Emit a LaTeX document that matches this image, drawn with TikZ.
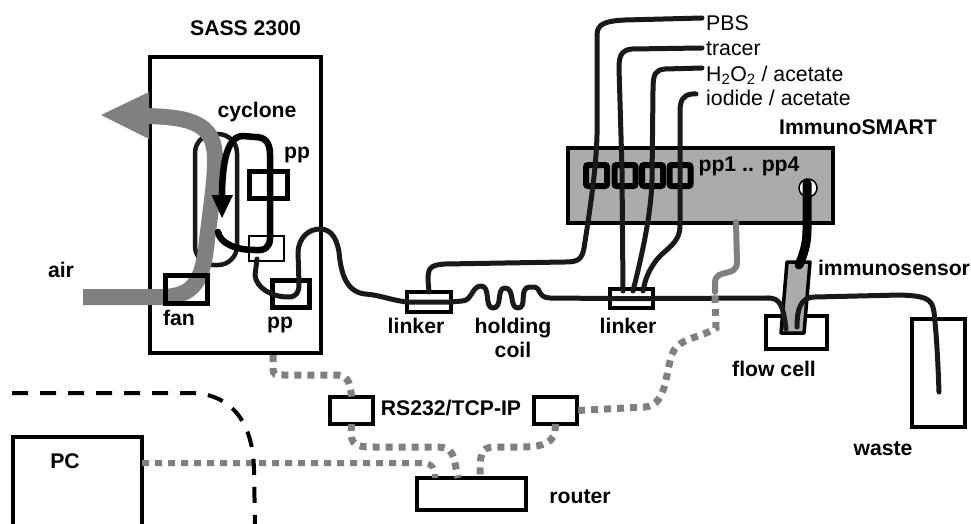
\documentclass[tikz,border=0pt]{standalone}
\usepackage{fontspec}
\setmainfont{Liberation Sans}
\definecolor{airgray}{gray}{0.5}
\definecolor{boxgray}{gray}{0.67}
\definecolor{tube}{gray}{0.1}
\tikzset{
  bx/.style={draw=black,line width=#1,inner sep=0pt,outer sep=0pt,rectangle},
  bx/.default=3pt,
  lb/.style={font=\fontsize{21.2}{24}\selectfont\bfseries,inner sep=0pt},
  lr/.style={font=\fontsize{21.3}{24}\selectfont,inner sep=0pt,anchor=west},
  tb/.style={draw=tube,line width=5pt,line cap=round,line join=round},
  dt/.style={draw=airgray,line width=7pt,dash pattern=on 7pt off 6pt}
}
\begin{document}
\begin{tikzpicture}[x=1pt,y=-1pt]
\useasboundingbox (0,0) rectangle (971,524);
% boxes
\node[bx=4pt,minimum width=171pt,minimum height=296pt] (sass) at (235.5,205) {};
\node[bx=4.5pt,rounded corners=19pt,minimum width=42pt,minimum height=131pt,draw=tube] (cyc) at (216,199.5) {};
\node[bx=2.5pt,minimum width=35pt,minimum height=25pt] (small) at (266.5,248.5) {};
\node[bx=4pt,fill=boxgray,minimum width=265pt,minimum height=75pt] (ims) at (700.5,185.5) {};
\node[bx=4pt,minimum width=53pt,minimum height=108pt] (wastebox) at (938.5,373) {};
\node[bx=4pt,minimum width=129pt,minimum height=103pt] (pc) at (77.5,488.5) {};
\node[bx=4.5pt,minimum width=43pt,minimum height=27pt] (rsl) at (351.5,410.5) {};
\node[bx=4.5pt,minimum width=43pt,minimum height=27pt] (rsr) at (555.5,410.5) {};
\node[bx=4pt,minimum width=109pt,minimum height=32pt] (router) at (471.5,494) {};
\node[bx=3.5pt,minimum width=44pt,minimum height=20pt] (lk1) at (429,302) {};
\node[bx=3.5pt,minimum width=43pt,minimum height=19pt] (lk2) at (631.5,298.5) {};
\node[bx=4pt,minimum width=61pt,minimum height=33pt] (cell) at (796.5,332.5) {};
\foreach \n/\x in {p1/596.5,p2/625,p3/652.5,p4/680}
  \node[bx=6pt,rounded corners=2pt,minimum width=21pt,minimum height=21pt] (\n) at (\x,175.5) {};
% free ends
\coordinate (airin) at (83,297);
\coordinate (airout) at (140,116);
\coordinate (airtip) at (101,115);
\coordinate (lp) at (218,232);
\coordinate (la) at (222,198);
\coordinate (tPBS) at (702,18);
\coordinate (ttr) at (702,48);
\coordinate (th2) at (702,68);
\coordinate (tio) at (696,94);
\coordinate (wend) at (939,392);
\coordinate (cellL) at (786,329);
\coordinate (cellR) at (797,327);
\coordinate (port) at (808,188);
% air
\draw[airgray,line width=16pt] (airin) -- (160,297) .. controls (195,297) and (203,280) .. (207,240)
  .. controls (212,200) and (215,180) .. (215,160) .. controls (215,128) and (200,116) .. (airout);
\fill[airgray] (airtip) -- (149,92) -- (149,139) -- cycle;
% black cyclone loop
\draw[black,line width=6.5pt,line cap=round,line join=round] (lp) .. controls (220,243) and (235,250) .. (255,250)
  .. controls (265,251) and (270,247) .. (270,238) -- (270,155)
  .. controls (270,142) and (265,137) .. (255,137) -- (243,136)
  .. controls (228,136) and (222,160) .. (la);
\fill[black] (222,218) -- (211.5,195) -- (233,195) -- cycle;
\node[bx=5pt,minimum width=38pt,minimum height=27pt] (ppa) at (268,184.5) {};
\node[bx=5pt,minimum width=42pt,minimum height=28pt] (fan) at (186,289) {};
\node[bx=5pt,minimum width=37pt,minimum height=27pt] (ppb) at (290.5,293.5) {};
% tube through the SASS, coil, linkers
\draw[tb] (257,259) -- (255,275) .. controls (256,288) and (272,297) .. (288,297)
  .. controls (297,297) and (299,292) .. (299,284) -- (298,252)
  .. controls (299,237) and (309,229) .. (320,229) .. controls (332,229) and (337,240) .. (339,252)
  .. controls (341,275) and (347,292) .. (365,294) .. controls (380,295) and (390,300) .. (lk1.west);
\draw[tb] (lk1.west) -- (lk1.east) -- (462,301) .. controls (472,301) and (472,286) .. (481,286)
  .. controls (491,286) and (484,308) .. (493,308) .. controls (503,308) and (496,288) .. (505,288)
  .. controls (515,288) and (509,308) .. (518,308) .. controls (528,308) and (518,287) .. (530,287)
  -- (535,287) .. controls (540,287) and (538,298) .. (550,298) -- (lk2.west);
\draw[tb] (lk2.west) -- (lk2.east) -- (768,298);
% reagent tubes
\draw[tb] (tPBS) -- (625,20) .. controls (605,21) and (597,24) .. (597,35) -- (597,135)
  .. controls (596,170) and (590,210) .. (584,248) .. controls (582,260) and (577,262) .. (565,262)
  -- (445,264) .. controls (430,265) and (428,268) .. (428,280) -- (lk1.north);
\draw[tb] (ttr) -- (632,49) .. controls (622,50) and (619,55) .. (619,68) -- (622,170) -- (623,291);
\draw[tb] (th2) -- (665,69) .. controls (655,70) and (653,74) .. (653,90) -- (652,180)
  .. controls (651,215) and (642,255) .. (633,291);
\draw[tb] (tio) -- (692,94) .. controls (683,95) and (680,100) .. (680,112) -- (680,225)
  .. controls (680,245) and (665,248) .. (655,262) .. controls (648,272) and (645,280) .. (643,291);
% signal lines
\draw[airgray,line width=6pt,line cap=round] (736,222) -- (737,262) .. controls (737,278) and (716,268) .. (715,282) -- (715,292);
\draw[dt] (715,296) -- (716,328) .. controls (700,338) and (680,338) .. (673,352) .. controls (665,370) and (668,405) .. (645,407) -- (rsr.east);
\draw[dt] (273,355) -- (273,368) .. controls (273,375) and (275,375) .. (285,375) -- (335,375) .. controls (347,375) and (350,380) .. (rsl.north);
\draw[dt] (rsl.south) -- (351,435) .. controls (352,447) and (362,447) .. (375,447) -- (435,447) .. controls (455,447) and (453,455) .. (458,478);
\draw[dt] (rsr.south) -- (555,432) .. controls (552,446) and (535,447) .. (520,447) -- (495,447) .. controls (480,447) and (480,455) .. (480,478);
\draw[dt,line width=6pt] (pc.east|-0,463) -- (420,463) .. controls (430,463) and (435,465) .. (435,478);
% dashed enclosure
\draw[black,line width=4pt,dash pattern=on 16pt off 12pt] (12,393) -- (190,393) .. controls (225,393) and (253,415) .. (254,470) -- (255,526);
% sensor
\draw[black,line width=3.5pt,fill=boxgray,line join=round] (787,262) -- (810,262) -- (804,333) -- (781,333) -- cycle;
\draw[tb] (768,298) .. controls (780,298) and (783,305) .. (cellL);
\draw[tb] (cellR) .. controls (797,310) and (800,297) .. (815,297) -- (900,295)
  .. controls (925,296) and (932,298) .. (934,312) .. controls (937,340) and (938,365) .. (wend);
\node[draw=black,line width=1.5pt,fill=white,circle,minimum size=18pt,inner sep=0pt] (sensorport) at (port) {};
\draw[black,line width=9pt,line cap=round] (807,183) -- (807,230) .. controls (807,245) and (803,255) .. (799,265);
% labels
\node[lb] (tsass) at (245.5,28) {SASS 2300};
\node[lb] (tcyc) at (257,112) {cyclone};
\node[lb] (tpa) at (297,155) {pp};
\node[lb] (tfan) at (179,318) {fan};
\node[lb] (tpb) at (280,325) {pp};
\node[lb] (tair) at (61,270) {air};
\node[lb] (tl1) at (416,326) {linker};
\node[lb,align=center] (tcoil) at (513,338) {holding\\coil};
\node[lb] (tl2) at (628,326) {linker};
\node[lr] (tp) at (706,23) {PBS};
\node[lr] (tt) at (706,49) {tracer};
\node[lr] (th) at (706,75) {H\textsubscript{2}O\textsubscript{2} / acetate};
\node[lr] (ti) at (706,98) {iodide / acetate};
\node[lb] (tims) at (858,127) {ImmunoSMART};
\node[lb] (tpp) at (749,166) {pp1 .. pp4};
\node[lb] (tsens) at (894,268) {immunosensor};
\node[lb] (tcell) at (774,369) {flow cell};
\node[lb] (twaste) at (883,449) {waste};
\node[lb] (trs) at (451,408) {RS232/TCP-IP};
\node[lb] (tpc) at (65,461) {PC};
\node[lb] (trt) at (580,497) {router};
\end{tikzpicture}
\end{document}
